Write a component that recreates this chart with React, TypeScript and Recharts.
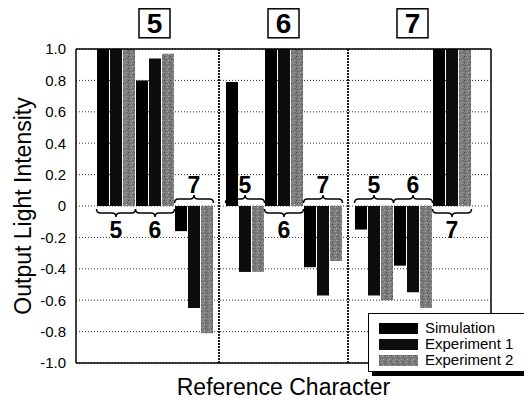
import { BarChart, Bar, XAxis, YAxis, CartesianGrid, ReferenceLine, LabelList, Legend } from 'recharts';

// top (boxed) characters = output character, braces = reference character
const outputChars = ['5', '6', '7'];
const referenceChars = ['5', '6', '7'];
const seriesNames = ['Simulation', 'Experiment 1', 'Experiment 2'];

// rows: output character, columns: reference character
const simulation = [
  [1.0, 0.8, -0.16],
  [0.79, 1.0, -0.39],
  [-0.15, -0.38, 1.0],
];
const experiment1 = [
  [1.0, 0.94, -0.65],
  [-0.42, 1.0, -0.57],
  [-0.57, -0.55, 1.0],
];
const experiment2 = [
  [1.0, 0.97, -0.81],
  [-0.42, 1.0, -0.35],
  [-0.6, -0.65, 1.0],
];

const yTicks = [-1.0, -0.8, -0.6, -0.4, -0.2, 0, 0.2, 0.4, 0.6, 0.8, 1.0];

const seriesKeys = ['sim', 'exp1', 'exp2'];
const seriesValues = [simulation, experiment1, experiment2];
const seriesFills = ['#000', '#0d0d0d', 'url(#speckle)'];

const chartData = outputChars.map((c, i) => {
  const row: any = { output: c };
  referenceChars.forEach((_, r) => {
    seriesKeys.forEach((k, s) => {
      row[`${k}_${r}`] = seriesValues[s][i][r];
    });
  });
  return row;
});

const FONT = '"Liberation Sans", Arial, Helvetica, sans-serif';
const PAD = { left: 14, right: 14 };

function Speckle({ id }: { id: string }) {
  return (
    <pattern id={id} width={6} height={6} patternUnits="userSpaceOnUse">
      <rect width={6} height={6} fill="#7c7c7c" />
      <rect x={0} y={0} width={1} height={1} fill="#444" />
      <rect x={3} y={1} width={1} height={1} fill="#a8a8a8" />
      <rect x={1} y={3} width={1} height={1} fill="#555" />
      <rect x={4} y={4} width={1} height={1} fill="#b2b2b2" />
      <rect x={5} y={2} width={1} height={1} fill="#5e5e5e" />
      <rect x={2} y={5} width={1} height={1} fill="#9a9a9a" />
    </pattern>
  );
}

function BoxedTick({ x, y, payload }: any) {
  return (
    <g>
      <rect x={x - 15.5} y={y - 40.2} width={31} height={29} fill="#fff" stroke="#000" strokeWidth={1.5} />
      <text x={x} y={y - 16} textAnchor="middle" fontSize={28} fontWeight="bold" fill="#000" fontFamily={FONT}>
        {payload.value}
      </text>
    </g>
  );
}

// brace + reference character, drawn from the middle (experiment 1) bar of each triple
const makeBrace = (r: number) => (props: any) => {
  const vb = props.viewBox || props;
  const x = Number(vb.x), y = Number(vb.y), width = Number(vb.width), height = Number(vb.height);
  const v = Number(props.value);
  const zero = v >= 0 ? Math.max(y, y + height) : Math.min(y, y + height);
  const d = v >= 0 ? 1 : -1;
  const cx = x + width / 2;
  const half = width * 1.5 + 1.5;
  const x0 = cx - half;
  const x1 = cx + half;
  const y0 = zero + 3 * d;
  const ym = zero + 7 * d;
  const yp = zero + 11 * d;
  const path = `M${x0},${y0} Q${x0},${ym} ${x0 + 4},${ym} L${cx - 4},${ym} Q${cx},${ym} ${cx},${yp} Q${cx},${ym} ${cx + 4},${ym} L${x1 - 4},${ym} Q${x1},${ym} ${x1},${y0}`;
  return (
    <g>
      <path d={path} fill="none" stroke="#000" strokeWidth={1.5} />
      <text x={cx} y={d > 0 ? zero + 32 : zero - 13} textAnchor="middle" fontSize={23} fontWeight="bold" fill="#000" fontFamily={FONT}>
        {referenceChars[r]}
      </text>
    </g>
  );
};

function LegendBox() {
  return (
    <div
      style={{
        border: '1.5px solid #000',
        background: '#fff',
        boxShadow: '4px 4px 0 #000',
        padding: '6px 4px 3px 10px',
        width: 157,
        boxSizing: 'border-box',
        fontSize: 15,
        lineHeight: '16px',
        color: '#000',
        fontFamily: FONT,
      }}
    >
      {seriesNames.map((name, i) => (
        <div key={name} style={{ display: 'flex', alignItems: 'center', height: 16 }}>
          <svg width={39} height={11} style={{ marginRight: 7, display: 'block' }}>
            <defs>
              <Speckle id={`speckle-legend-${i}`} />
            </defs>
            <rect width={39} height={11} fill={i === 2 ? `url(#speckle-legend-${i})` : seriesFills[i]} />
          </svg>
          <span>{name}</span>
        </div>
      ))}
    </div>
  );
}

export default function App() {
  return (
    <div style={{ fontFamily: FONT }}>
      <BarChart
        width={516}
        height={392}
        data={chartData}
        margin={{ top: 0, right: 32, bottom: 0, left: 0 }}
        barGap={1}
      >
        <defs>
          <Speckle id="speckle" />
        </defs>
        <CartesianGrid vertical={false} stroke="#333" strokeDasharray="1 2" />
        <XAxis
          dataKey="output"
          padding={PAD}
          tick={false}
          tickLine={false}
          height={37}
          axisLine={{ stroke: '#000', strokeWidth: 1.5 }}
          label={{ value: 'Reference Character', position: 'insideBottom', offset: 5, style: { fontSize: 23, fill: '#000' } }}
        />
        <XAxis
          xAxisId="top"
          orientation="top"
          dataKey="output"
          padding={PAD}
          height={41}
          tickLine={false}
          tickSize={0}
          tickMargin={0}
          tick={<BoxedTick />}
          axisLine={{ stroke: '#000', strokeWidth: 1.5 }}
        />
        <YAxis
          domain={[-1, 1]}
          ticks={yTicks}
          width={68}
          tickLine={false}
          tickSize={0}
          tickMargin={10}
          tickFormatter={(v: number) => (v === 0 ? '0' : v.toFixed(1))}
          tick={{ fontSize: 15, fill: '#000' }}
          axisLine={{ stroke: '#000', strokeWidth: 1.5 }}
          label={{ value: 'Output Light Intensity', angle: -90, position: 'insideLeft', offset: 15, style: { textAnchor: 'middle', fontSize: 23, fill: '#000' } }}
        />
        <YAxis
          yAxisId="right"
          orientation="right"
          domain={[-1, 1]}
          ticks={yTicks}
          width={1}
          tick={false}
          tickLine={false}
          axisLine={{ stroke: '#000', strokeWidth: 1.5 }}
        />
        {outputChars.slice(1).map((c) => (
          <ReferenceLine key={c} x={c} position="start" stroke="#1a1a1a" strokeWidth={2} strokeDasharray="2 1" />
        ))}
        {referenceChars.map((_, r) =>
          seriesKeys.map((k, s) => (
            <Bar
              key={`${k}_${r}`}
              dataKey={`${k}_${r}`}
              name={seriesNames[s]}
              fill={seriesFills[s]}
              barSize={12}
              isAnimationActive={false}
            >
              {s === 1 && <LabelList dataKey={`${k}_${r}`} content={makeBrace(r)} />}
            </Bar>
          ))
        )}
        <Legend
          layout="vertical"
          align="center"
          verticalAlign="middle"
          content={() => <LegendBox />}
          wrapperStyle={{ left: 360, top: 305, width: 157 }}
        />
      </BarChart>
    </div>
  );
}
